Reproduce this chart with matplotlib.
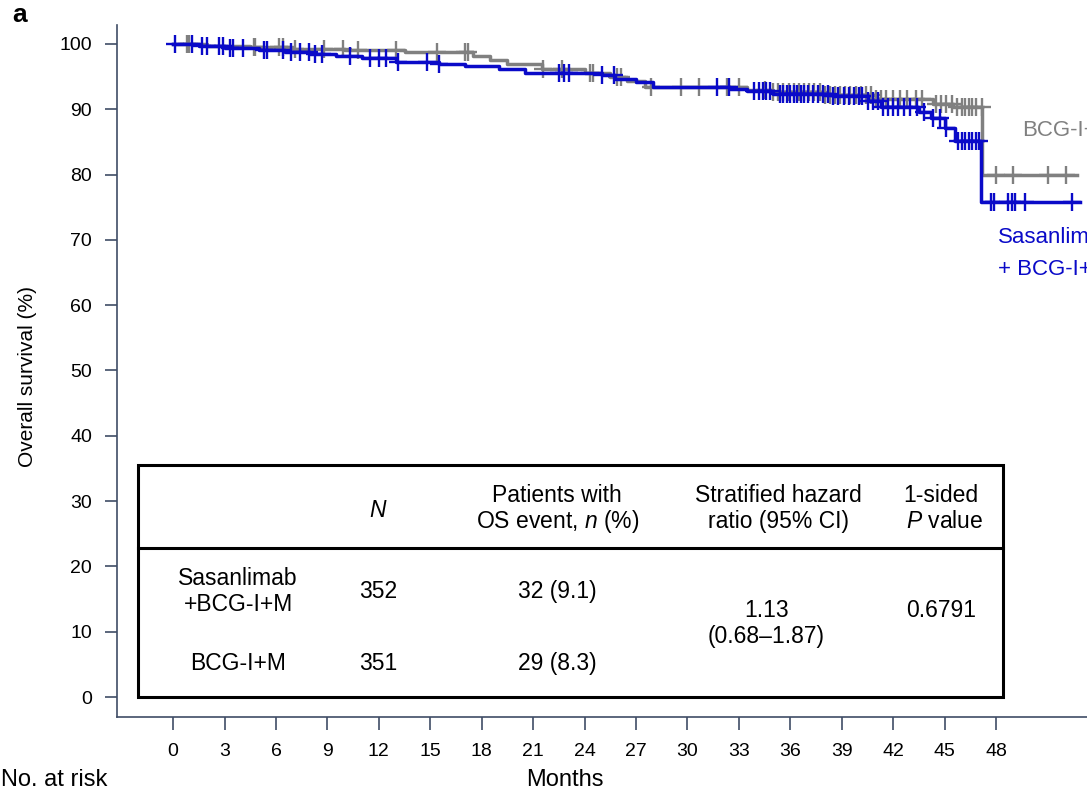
import numpy as np
import matplotlib
matplotlib.use('Agg')
import matplotlib.pyplot as plt
from matplotlib.patches import Rectangle

plt.rcParams['font.family'] = ['Liberation Sans', 'DejaVu Sans']
plt.rcParams['mathtext.fontset'] = 'custom'
plt.rcParams['mathtext.rm'] = 'Liberation Sans'
plt.rcParams['mathtext.it'] = 'Liberation Sans:italic'

# Sasanlimab + BCG-I+M (blue): step times / survival (%)
sas_t = [0, 1.5, 3.0, 5.0, 6.5, 8.0, 9.5, 11.0, 13.0, 15.5, 17.0, 19.0, 20.5,
         25.0, 25.8, 27.0, 28.0, 32.5, 33.5, 35.0, 38.5, 40.5, 41.3, 43.5,
         44.2, 45.0, 45.6, 47.1]
sas_s = [100, 99.7, 99.4, 99.1, 98.8, 98.4, 98.1, 97.8, 97.3, 96.9, 96.6, 96.2,
         95.6, 95.2, 94.6, 94.1, 93.4, 93.1, 92.8, 92.4, 92.0, 91.3, 90.4, 89.6,
         88.6, 87.2, 85.1, 75.8]
sas_end = 52.9
sas_cens = [0.1, 1.1, 1.7, 2.0, 2.7, 2.9, 3.3, 3.5, 4.1, 5.3, 5.5, 6.4, 6.9, 7.4,
            7.9, 8.3, 8.7, 10.3, 11.5, 12.0, 12.4, 13.1, 14.8, 15.5, 22.5, 22.8,
            23.1, 25.0, 25.7, 31.7, 32.4, 33.9, 34.2, 34.4, 34.6, 34.8, 35.4,
            35.6, 35.8, 36.0, 36.2, 36.4, 36.6, 36.8, 37.0, 37.3, 37.6, 37.9,
            38.2, 38.5, 38.8, 39.1, 39.4, 39.7, 40.0, 40.2, 40.5, 40.8, 41.1,
            41.4, 41.7, 42.0, 42.3, 42.6, 43.0, 43.4, 43.8, 44.3, 44.7, 45.1,
            45.8, 46.0, 46.2, 46.4, 46.6, 46.8, 47.0, 47.7, 47.9, 48.7, 48.9,
            49.1, 49.7, 52.4]

# BCG-I+M (gray)
bcg_t = [0, 2.0, 4.5, 7.0, 10.0, 13.5, 17.5, 18.5, 19.5, 21.5, 24.0, 25.5,
         26.5, 27.5, 33.5, 35.0, 38.0, 41.0, 44.3, 45.5, 47.2]
bcg_s = [100, 99.7, 99.5, 99.3, 99.0, 98.7, 98.2, 97.6, 96.9, 96.1, 95.6, 95.0,
         94.3, 93.4, 93.0, 92.6, 92.2, 91.6, 90.8, 90.3, 80.0]
bcg_end = 52.7
bcg_cens = [0.8, 0.95, 4.7, 4.8, 6.2, 6.4, 7.1, 8.8, 9.9, 10.8, 13.0, 15.4, 17.0,
            17.2, 21.6, 22.7, 24.3, 24.5, 25.9, 26.1, 27.9, 29.6, 30.7, 32.3,
            33.0, 34.5, 35.0, 35.3, 35.6, 35.9, 36.2, 36.5, 36.8, 37.1, 37.4,
            37.7, 38.0, 38.3, 38.6, 38.9, 39.2, 39.5, 39.8, 40.1, 40.4, 40.7,
            41.0, 41.3, 41.6, 42.0, 42.4, 42.8, 43.3, 43.7, 44.5, 44.8, 45.1,
            45.4, 45.7, 46.0, 46.2, 46.4, 46.6, 46.8, 47.15, 48.0, 49.0, 51.0,
            52.1]

x_ticks = list(range(0, 49, 3))
y_ticks = list(range(0, 101, 10))

BLUE = '#0a0ac8'
GRAY = '#808080'
AXC = '#3f4d66'

fig = plt.figure(figsize=(10.87, 7.93), dpi=100)
ax = fig.add_axes([117/1087, 76/793, 970/1087, 692/793])


def km(t, s, end, cens, color, z):
    tt = list(t) + [end]
    ss = list(s) + [s[-1]]
    ax.step(tt, ss, where='post', color=color, lw=2.5, zorder=z)
    idx = np.searchsorted(t, cens, side='right') - 1
    cy = np.array(s)[idx]
    ax.plot(cens, cy, ls='none', marker='+', ms=12.5, mew=1.7, color=color,
            zorder=z)


km(bcg_t, bcg_s, bcg_end, bcg_cens, GRAY, 2)
km(sas_t, sas_s, sas_end, sas_cens, BLUE, 3)

ax.set_xlim(-3.27, 53.3)
ax.set_ylim(-3.06, 102.9)
ax.set_xticks(x_ticks)
ax.set_yticks(y_ticks)
for sp in ['top', 'right']:
    ax.spines[sp].set_visible(False)
for sp in ['left', 'bottom']:
    ax.spines[sp].set_color(AXC)
    ax.spines[sp].set_linewidth(1.2)
ax.tick_params(axis='both', colors=AXC, labelcolor='black', length=9,
               width=1.2, labelsize=14)
ax.tick_params(axis='x', pad=10)
ax.tick_params(axis='y', pad=9)

# curve labels (cut by the figure edge as in the original)
ax.text(49.5, 86.8, 'BCG-I+M', color=GRAY, fontsize=16, va='center',
        ha='left', clip_on=False)
ax.text(48.1, 70.3, 'Sasanlimab', color=BLUE, fontsize=16, va='center',
        ha='left', clip_on=False)
ax.text(48.1, 65.4, '+ BCG-I+M', color=BLUE, fontsize=16, va='center',
        ha='left', clip_on=False)

# summary table
ax.add_patch(Rectangle((-2.04, 0), 50.44, 35.5, fill=False, lw=2.2,
                       edgecolor='black', zorder=4))
ax.plot([-2.04, 48.4], [22.8, 22.8], color='black', lw=2.2, zorder=4)
fs = 16.5
ax.text(11.95, 28.6, '$N$', fontsize=fs, ha='center', va='center')
ax.text(22.4, 30.9, 'Patients with', fontsize=fs, ha='center', va='center')
ax.text(22.4, 26.8, 'OS event, $n$ (%)', fontsize=fs, ha='center', va='center')
ax.text(35.3, 30.9, 'Stratified hazard', fontsize=fs, ha='center', va='center')
ax.text(35.3, 26.8, 'ratio (95% CI)', fontsize=fs, ha='center', va='center')
ax.text(44.8, 30.9, '1-sided', fontsize=fs, ha='center', va='center')
ax.text(45.0, 26.8, '$P$ value', fontsize=fs, ha='center', va='center')

ax.text(3.8, 18.2, 'Sasanlimab', fontsize=fs, ha='center', va='center')
ax.text(3.8, 14.2, '+BCG-I+M', fontsize=fs, ha='center', va='center')
ax.text(11.95, 16.1, '352', fontsize=fs, ha='center', va='center')
ax.text(22.4, 16.1, '32 (9.1)', fontsize=fs, ha='center', va='center')
ax.text(34.6, 13.3, '1.13', fontsize=fs, ha='center', va='center')
ax.text(34.6, 9.3, '(0.68\u20131.87)', fontsize=fs, ha='center', va='center')
ax.text(44.8, 13.3, '0.6791', fontsize=fs, ha='center', va='center')
ax.text(3.8, 5.1, 'BCG-I+M', fontsize=fs, ha='center', va='center')
ax.text(11.95, 5.1, '351', fontsize=fs, ha='center', va='center')
ax.text(22.4, 5.1, '29 (8.3)', fontsize=fs, ha='center', va='center')

fig.text(28/1087, 1 - 376/793, 'Overall survival (%)', rotation=90,
         fontsize=15, ha='center', va='center')
fig.text(565/1087, 1 - 780/793, 'Months', fontsize=17, ha='center',
         va='center')
fig.text(1/1087, 1 - 780/793, 'No. at risk', fontsize=17, ha='left',
         va='center')
fig.text(12/1087, 1 - 15/793, 'a', fontsize=19, fontweight='bold',
         ha='left', va='center')

fig.savefig('out.png', dpi=100)
